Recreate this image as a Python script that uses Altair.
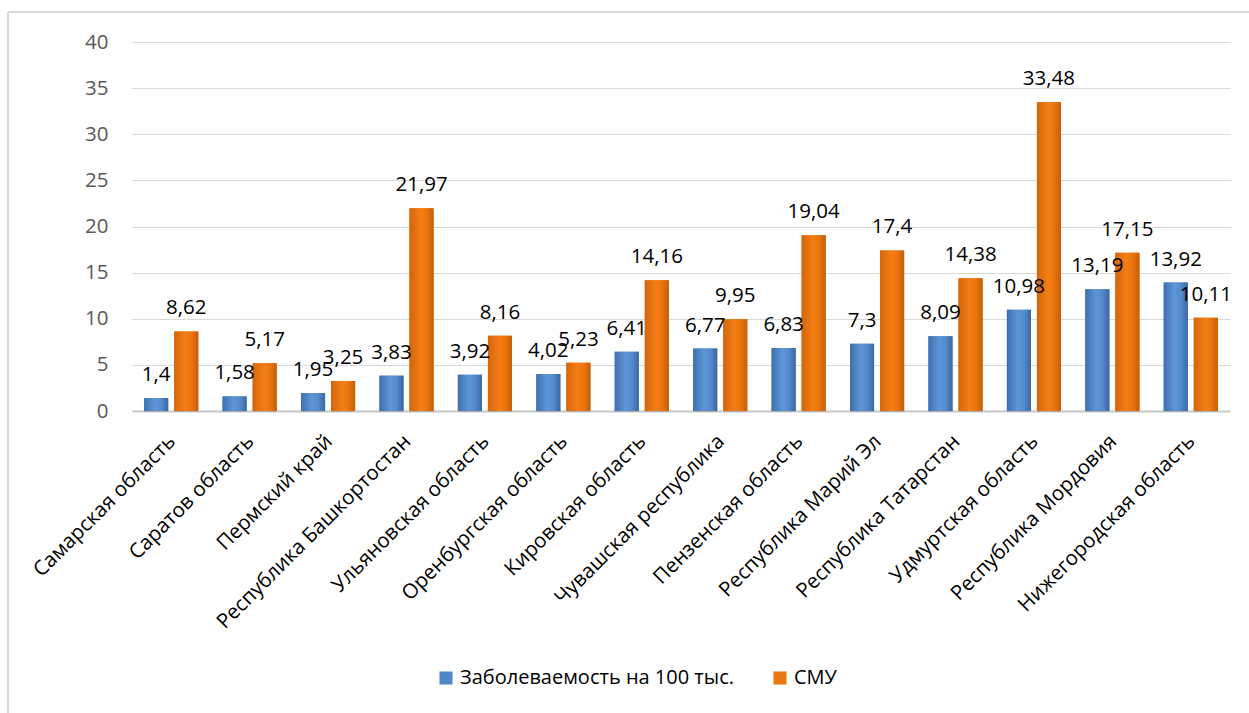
import altair as alt
import pandas as pd

categories = ["Самарская область", "Саратов область", "Пермский край",
              "Республика  Башкортостан", "Ульяновская область", "Оренбургская область",
              "Кировская область", "Чувашская республика", "Пензенская область",
              "Республика Марий Эл", "Республика Татарстан", "Удмуртская область",
              "Республика Мордовия", "Нижегородская область"]
series_names = ["Заболеваемость на 100 тыс.", "СМУ"]
incidence = [1.4, 1.58, 1.95, 3.83, 3.92, 4.02, 6.41, 6.77, 6.83, 7.3, 8.09, 10.98, 13.19, 13.92]
smu = [8.62, 5.17, 3.25, 21.97, 8.16, 5.23, 14.16, 9.95, 19.04, 17.4, 14.38, 33.48, 17.15, 10.11]
y_ticks = [0, 5, 10, 15, 20, 25, 30, 35, 40]

rows = []
for i, c in enumerate(categories):
    for s, vals in zip(series_names, [incidence, smu]):
        v = vals[i]
        rows.append({"cat": c, "series": s, "value": v, "label": str(v).replace(".", ",")})
df = pd.DataFrame(rows)

FONT = "Open Sans"
BLUE = "#4f86c6"
ORANGE = "#ec760f"

grad_blue = alt.Gradient(gradient="linear", x1=0, x2=1, y1=0, y2=0, stops=[
    alt.GradientStop(color="#3f70ae", offset=0),
    alt.GradientStop(color="#5d95d8", offset=0.45),
    alt.GradientStop(color="#568cce", offset=0.7),
    alt.GradientStop(color="#3a67a3", offset=1)])
grad_orange = alt.Gradient(gradient="linear", x1=0, x2=1, y1=0, y2=0, stops=[
    alt.GradientStop(color="#d3650a", offset=0),
    alt.GradientStop(color="#f47d14", offset=0.45),
    alt.GradientStop(color="#ee7610", offset=0.7),
    alt.GradientStop(color="#c55e06", offset=1)])

x_enc = alt.X("cat:N", sort=categories, title=None,
              scale=alt.Scale(paddingInner=0.31, paddingOuter=0.155),
              axis=alt.Axis(labelAngle=315, labelAlign="right", labelBaseline="top",
                            labelPadding=20, labelLimit=500, labelFontSize=20.5,
                            labelOffset=-6,
                            labelColor="#000000", labelFont=FONT, ticks=False,
                            domainColor="#c8c8c8", domainWidth=2))
xo_enc = alt.XOffset("series:N", sort=series_names,
                     scale=alt.Scale(domain=series_names, paddingInner=0.2, paddingOuter=0))
y_enc = alt.Y("value:Q", title=None, scale=alt.Scale(domain=[0, 40]),
              axis=alt.Axis(values=y_ticks, domain=False, ticks=False, labelPadding=24,
                            labelFontSize=20.5, labelColor="#595959", labelFont=FONT,
                            gridColor="#d9d9d9", gridWidth=1))

base = alt.Chart(df).encode(x=x_enc, xOffset=xo_enc, y=y_enc)

shadow = base.mark_bar(color="#000000", opacity=0.12, xOffset=2, yOffset=1)

flat = base.mark_bar().encode(
    color=alt.Color("series:N", sort=series_names,
                    scale=alt.Scale(domain=series_names, range=[BLUE, ORANGE]),
                    legend=alt.Legend(title=None, orient="none", legendX=304, legendY=626,
                                      direction="horizontal", symbolType="square",
                                      symbolSize=170, symbolStrokeWidth=0,
                                      labelFontSize=20, labelFont=FONT, labelColor="#000000",
                                      labelLimit=500, columnPadding=36, labelOffset=4)))

gb = base.transform_filter(alt.datum.series == series_names[0]).mark_bar(fill=grad_blue)
go = base.transform_filter(alt.datum.series == series_names[1]).mark_bar(fill=grad_orange)

labels = base.mark_text(dy=-17, fontSize=20.5, font=FONT, color="#000000",
                        baseline="alphabetic").encode(text="label:N")

frame_top = alt.Chart(df).mark_rule(color="#d9d9d9", strokeWidth=1.5).encode(
    x=alt.value(-124), x2=alt.value(1130), y=alt.value(-30))
frame_left = alt.Chart(df).mark_rule(color="#d9d9d9", strokeWidth=1.5).encode(
    x=alt.value(-124), y=alt.value(-30), y2=alt.value(680))

chart = alt.layer(frame_top, frame_left, shadow, flat, gb, go, labels).properties(
    width=1098, height=369,
    padding={"left": 132, "top": 42, "right": 19, "bottom": 302},
    autosize=alt.AutoSizeParams(type="none"),
    background="#ffffff",
).configure_view(stroke=None)

chart.save("out.html", embed_options={"renderer": "svg", "actions": False})
